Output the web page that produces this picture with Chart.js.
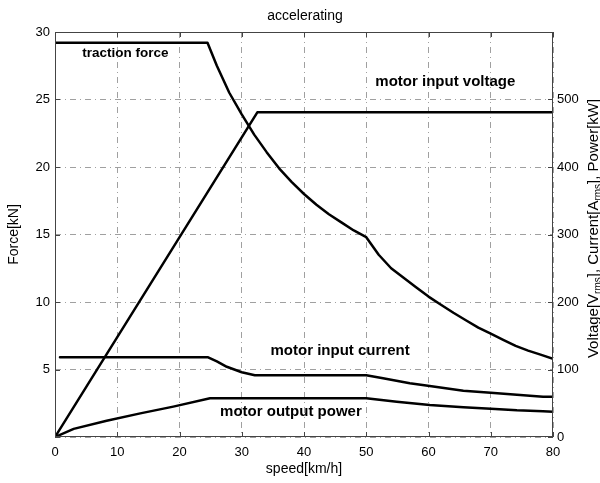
<!DOCTYPE html>
<html>
<head>
<meta charset="utf-8">
<script src="https://cdn.jsdelivr.net/npm/chart.js@4.4.0/dist/chart.umd.min.js"></script>
<style>
  html, body { margin: 0; padding: 0; background: #fff; }
  #c { display: block; }
</style>
</head>
<body>
<canvas id="c" width="600" height="483"></canvas>
<script>
// Tractive effort and motor quantities versus speed while accelerating
const forceSpeed   = [0, 24.5, 26, 28, 30, 32, 34, 36, 38, 40, 42, 44, 46, 48, 50,
                      52, 54, 56, 58, 60, 62, 64, 66, 68, 70, 72, 74, 76, 78, 80];
const forceValues  = [29.2, 29.2, 27.5, 25.5, 23.9, 22.4, 21.1, 19.9, 18.9, 18.0, 17.2, 16.5, 15.9, 15.3, 14.8,
                      13.5, 12.5, 11.8, 11.1, 10.4, 9.8, 9.2, 8.65, 8.1, 7.65, 7.2, 6.75, 6.4, 6.1, 5.8];

const voltSpeed    = [0, 32.5, 80];
const voltValues   = [0, 481, 481];

const currSpeed    = [0.8, 24.6, 26, 27.6, 30, 32.1, 50, 52.7, 57, 60.2, 65.6, 70, 74.2, 78.4, 80];
const currValues   = [118, 118, 112, 104, 96, 91.5, 91.5, 87, 79.5, 75.5, 68.6, 65.6, 62.7, 59.5, 59.5];

const powerSpeed   = [0, 3, 8.3, 13.7, 19, 24.9, 50, 54.9, 60.2, 65.6, 70, 74.2, 78.4, 80];
const powerValues  = [0, 12, 24, 35, 45, 57.3, 57.3, 52.3, 47.4, 44, 42, 39.5, 38, 37.5];

// Axis ranges and ticks
const speedTicks = [0, 10, 20, 30, 40, 50, 60, 70, 80];
const forceTicks = [0, 5, 10, 15, 20, 25, 30];
const rightTicks = [0, 100, 200, 300, 400, 500, 600];

// Curve labels: text, speed position, force-axis level
const labelTexts  = ['traction force', 'motor input voltage', 'motor input current', 'motor output power'];
const labelSpeeds = [11.3, 62.7, 45.8, 37.9];
const labelLevels = [28.4, 26.3, 6.37, 1.85];
const labelSizes  = [13.5, 15, 15, 15];

const FONT = '"Liberation Sans", Arial, Helvetica, sans-serif';

const toPoints = (xs, ys) => xs.map((x, i) => ({ x: x, y: ys[i] }));

const lineStyle = {
  borderColor: '#000',
  borderWidth: 2.5,
  pointRadius: 0,
  fill: false,
  tension: 0,
  borderJoinStyle: 'round',
  borderCapStyle: 'round'
};

// Frame, inward ticks, title, right-axis title with subscripts, curve labels
const decorations = {
  id: 'decorations',
  afterDraw(chart) {
    const ctx = chart.ctx;
    const a = chart.chartArea;
    const sx = chart.scales.x, sy = chart.scales.y;

    ctx.save();
    // box
    ctx.strokeStyle = '#444';
    ctx.lineWidth = 1;
    ctx.setLineDash([]);
    ctx.strokeRect(a.left + 0.5, a.top + 0.5, a.right - a.left - 1, a.bottom - a.top - 1);

    // inward tick marks
    const tl = 5;
    ctx.beginPath();
    speedTicks.forEach(v => {
      const px = Math.round(sx.getPixelForValue(v)) + 0.5;
      ctx.moveTo(px, a.bottom); ctx.lineTo(px, a.bottom - tl);
      ctx.moveTo(px, a.top); ctx.lineTo(px, a.top + tl);
    });
    forceTicks.forEach(v => {
      const py = Math.round(sy.getPixelForValue(v)) + 0.5;
      ctx.moveTo(a.left, py); ctx.lineTo(a.left + tl, py);
      ctx.moveTo(a.right, py); ctx.lineTo(a.right - tl, py);
    });
    ctx.stroke();

    // chart title
    ctx.fillStyle = '#000';
    ctx.font = '14px ' + FONT;
    ctx.textAlign = 'center';
    ctx.textBaseline = 'middle';
    ctx.fillText('accelerating', (a.left + a.right) / 2 + 1, 16);

    // right axis title, rotated, with "rms" subscripts
    const parts = [
      ['Voltage[V', false], ['rms', true], ['], Current[A', false], ['rms', true], ['], Power[kW]', false]
    ];
    const mainFont = '15px ' + FONT, subFont = '10px ' + FONT;
    let total = 0;
    parts.forEach(p => { ctx.font = p[1] ? subFont : mainFont; total += ctx.measureText(p[0]).width; });
    ctx.translate(593, (a.top + a.bottom) / 2 - 6);
    ctx.rotate(-Math.PI / 2);
    ctx.textAlign = 'left';
    ctx.textBaseline = 'alphabetic';
    let cx = -total / 2;
    parts.forEach(p => {
      ctx.font = p[1] ? subFont : mainFont;
      ctx.fillText(p[0], cx, p[1] ? 8 : 5);
      cx += ctx.measureText(p[0]).width;
    });
    ctx.restore();

    // curve labels
    ctx.save();
    ctx.fillStyle = '#000';
    ctx.textAlign = 'center';
    ctx.textBaseline = 'middle';
    labelTexts.forEach((t, i) => {
      ctx.font = 'bold ' + labelSizes[i] + 'px ' + FONT;
      ctx.fillText(t, sx.getPixelForValue(labelSpeeds[i]), sy.getPixelForValue(labelLevels[i]));
    });
    ctx.restore();
  }
};

const gridStyle = { color: '#a0a0a0', lineWidth: 1, drawTicks: false };
const gridBorder = { display: false, dash: [6, 4, 1, 4] };

new Chart(document.getElementById('c'), {
  type: 'line',
  data: {
    datasets: [
      Object.assign({ label: 'traction force', yAxisID: 'y', data: toPoints(forceSpeed, forceValues) }, lineStyle),
      Object.assign({ label: 'motor input voltage', yAxisID: 'y2', data: toPoints(voltSpeed, voltValues) }, lineStyle),
      Object.assign({ label: 'motor input current', yAxisID: 'y2', data: toPoints(currSpeed, currValues) }, lineStyle),
      Object.assign({ label: 'motor output power', yAxisID: 'y2', data: toPoints(powerSpeed, powerValues) }, lineStyle)
    ]
  },
  options: {
    responsive: false,
    animation: false,
    devicePixelRatio: 1,
    layout: { padding: { top: 32, left: 0, right: 0, bottom: 0 } },
    plugins: {
      legend: { display: false },
      title: { display: false },
      tooltip: { enabled: false }
    },
    scales: {
      x: {
        type: 'linear',
        min: 0, max: 80,
        afterFit: s => { s.height = 46; },
        afterBuildTicks: s => { s.ticks = speedTicks.map(v => ({ value: v })); },
        ticks: { color: '#000', font: { family: FONT, size: 13 }, padding: 8, maxRotation: 0 },
        grid: gridStyle,
        border: gridBorder,
        title: { display: true, text: 'speed[km/h]', color: '#000', font: { family: FONT, size: 14 }, padding: { top: 0, bottom: 5 } }
      },
      y: {
        type: 'linear',
        position: 'left',
        min: 0, max: 30,
        afterFit: s => { s.width = 55; },
        afterBuildTicks: s => { s.ticks = forceTicks.map(v => ({ value: v })); },
        ticks: { color: '#000', font: { family: FONT, size: 13 }, padding: 5, callback: v => (v === 0 ? '' : v) },
        grid: gridStyle,
        border: gridBorder,
        title: { display: true, text: 'Force[kN]', color: '#000', font: { family: FONT, size: 14 }, padding: { top: 6, bottom: 0 } }
      },
      y2: {
        type: 'linear',
        position: 'right',
        min: 0, max: 600,
        afterFit: s => { s.width = 47; },
        afterBuildTicks: s => { s.ticks = rightTicks.map(v => ({ value: v })); },
        ticks: { color: '#000', font: { family: FONT, size: 13 }, padding: 4, callback: v => (v === 600 ? '' : v) },
        grid: { display: false, drawTicks: false },
        border: { display: false }
      }
    }
  },
  plugins: [decorations]
});
</script>
</body>
</html>
